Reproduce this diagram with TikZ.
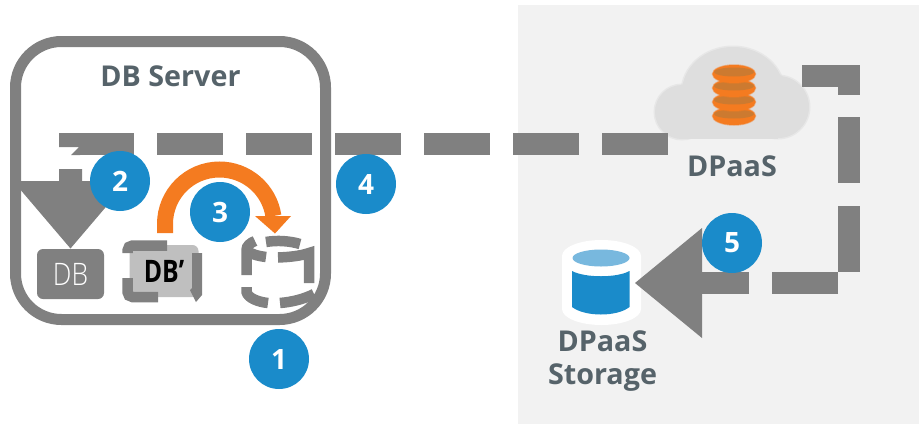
\documentclass[tikz,border=0pt]{standalone}
\usepackage{graphicx}
\usepackage{fontspec}
\setmainfont{Open Sans}
\newfontfamily\lightfont{Open Sans Light}
\usetikzlibrary{calc}
\definecolor{linegray}{HTML}{808080}
\definecolor{panelgray}{HTML}{F2F2F2}
\definecolor{cloudgray}{HTML}{DEDEDE}
\definecolor{badgeblue}{HTML}{1A8BCA}
\definecolor{lightblue}{HTML}{78B8DE}
\definecolor{labelgray}{HTML}{56636A}
\definecolor{flame}{HTML}{F47B20}
\definecolor{flamedark}{HTML}{CC7A30}
\definecolor{lightbox}{HTML}{BFBFBF}
\tikzset{
  badge/.style={circle,fill=badgeblue,text=white,minimum size=60pt,inner sep=0pt,font=\fontsize{28}{28}\selectfont\bfseries},
  lbl/.style={text=labelgray,font=\fontsize{28.7}{33}\selectfont\bfseries,align=center,inner sep=0pt},
  bigdash/.style={draw=linegray,line width=22pt,dash pattern=on 66pt off 23pt,miter limit=10},
  bigdashb/.style={draw=linegray,line width=22pt,dash pattern=on 66pt off 22pt on 66pt off 23pt,miter limit=10},
  graypiece/.style={draw=linegray,line width=10.5pt,line cap=butt},
  grayfill/.style={fill=linegray,draw=none},
  softcloud/.style={fill=cloudgray,draw=cloudgray,draw opacity=.5,line width=3pt},
}
\begin{document}
\begin{tikzpicture}[x=1pt,y=-1pt]
\useasboundingbox (0,0) rectangle (919,424);
% panel
\fill[panelgray] (518,5) rectangle (919,424);
% cloud
\path[softcloud] (682,112) circle[radius=27pt] (778,107) circle[radius=31pt];
\path[softcloud] (733,92) ellipse[x radius=51pt,y radius=45pt];
\fill[cloudgray] (682,105) rectangle (778,139);
% orange stack
\foreach \yy in {116,102,88,74}{
  \fill[flame,draw=flame,draw opacity=.5,line width=1.5pt] (734,\yy) ellipse[x radius=21.5pt,y radius=9pt];
  \fill[flamedark] (734,\yy-2) ellipse[x radius=20pt,y radius=4.5pt];
}
\node[lbl] (dpaaslabel) at (732,166) {DPaaS};
% storage
\fill[white] (562,256) arc[start angle=180,end angle=0,x radius=39.5pt,y radius=16pt] -- (641,309) arc[start angle=0,end angle=-180,x radius=39.5pt,y radius=16pt] -- cycle;
\fill[lightblue] (601,258) ellipse[x radius=28.5pt,y radius=8.5pt];
\fill[badgeblue] (572,271) .. controls (585,278) and (617,278) .. (629.5,271) -- (629.5,307) .. controls (617,317) and (585,317) .. (572,307) -- cycle;
\node[lbl] (storagelabel) at (602.5,361) {DPaaS\\Storage};
% server box
\node[draw=linegray,line width=11pt,rounded corners=46pt,minimum width=310pt,minimum height=278pt,inner sep=0pt] (server) at (170.5,180.5) {};
\node[lbl] (serverlabel) at (170.5,76) {DB Server};
% connector left
\coordinate (cloudend) at (667.5,144);
\coordinate (notch) at (79,144);
\draw[bigdash] (cloudend) -- (notch);
\fill[linegray] (59,133) -- (80,133) -- (80,155) -- (71,155) -- (79,147) -- (59,147) -- cycle;
\fill[linegray] (59,169) -- (82,169) -- (82,181) -- (128,181) -- (70.5,248.5) -- (13,181) -- (59,181) -- cycle;
% connector right
\coordinate (cloudright) at (802,76);
\coordinate (cornerA) at (849,76);
\coordinate (cornerB) at (849,283);
\coordinate (headbase) at (702,283);
\coordinate (storagetip) at (635,283);
\draw[bigdashb] (cloudright) -- (cornerA) -- (cornerB) -- (headbase);
\fill[linegray] (storagetip) -- (702,228) -- (702,338) -- cycle;
% DB
\node[fill=linegray,rounded corners=6pt,minimum width=67pt,minimum height=50pt,inner sep=0pt,text=white,font=\fontsize{31}{31}\selectfont\lightfont] (db) at (70.5,274) {\scalebox{0.85}[1]{DB}};
% DB'
\node[fill=lightbox,rounded corners=6pt,minimum width=69pt,minimum height=52pt,inner sep=0pt,text=black,font=\fontsize{31}{31}\selectfont\bfseries] (dbprime) at (164,271) {\scalebox{0.8}[1]{DB’}};
\draw[graypiece,rounded corners=5pt] (167,245.5) -- (127.5,245.5) -- (127.5,253);
\draw[graypiece,rounded corners=5pt] (127.5,278) -- (127.5,297) -- (158,297);
\fill[grayfill] (192,253) -- (202,253) -- (202,295) -- (196,302) -- (190,290) -- (192,288) -- cycle;
% target cylinder (dashed)
\draw[graypiece] (246.5,275) -- (246.5,250) .. controls (246.5,246) and (250,243) .. (255,241);
\draw[graypiece] (246.5,250) .. controls (250,254) and (258,256) .. (266,257);
\draw[graypiece] (266,242) .. controls (277,240) and (290,241) .. (300,244);
\draw[graypiece] (278,257.5) .. controls (290,257) and (300,256) .. (309,253) -- (309,283);
\draw[graypiece] (246.5,287) -- (246.5,292) .. controls (248,298) and (258,302) .. (268,303);
\draw[graypiece] (280,303) .. controls (292,302) and (304,299) .. (314,294);
% orange arrow
\coordinate (orangestart) at (165,233);
\draw[flame,line width=16pt] (orangestart) -- (165,224) arc[start angle=180,end angle=8.4,radius=54.5pt];
\fill[flame] (255,216) -- (291,216) -- (275,233.5) -- cycle;
% badges
\node[badge] (b1) at (279,359) {1};
\node[badge] (b2) at (120,181) {2};
\node[badge] (b3) at (220,212) {3};
\node[badge] (b4) at (366,184) {4};
\node[badge] (b5) at (732,243) {5};
\end{tikzpicture}
\end{document}
